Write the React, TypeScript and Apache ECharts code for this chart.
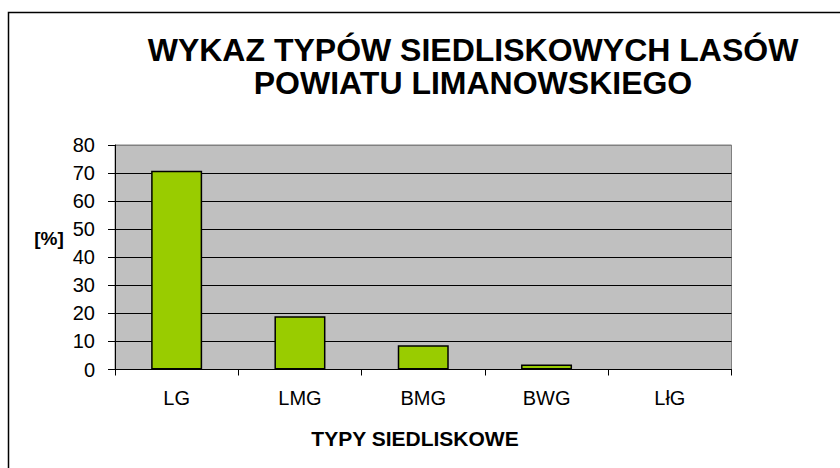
import React, { useEffect, useRef } from "react";
import * as echarts from "echarts";

const categories = ["LG", "LMG", "BMG", "BWG", "LłG"];
const values = [70.8, 19.0, 8.6, 1.8, 0];
const titleLines = ["WYKAZ TYPÓW SIEDLISKOWYCH LASÓW", "POWIATU LIMANOWSKIEGO"];
const yAxisTitle = "[%]";
const xAxisTitle = "TYPY SIEDLISKOWE";

const FONT = "'Liberation Sans', Arial, sans-serif";

export default function App() {
  const ref = useRef<HTMLDivElement>(null);
  useEffect(() => {
    if (!ref.current) return;
    const chart = echarts.init(ref.current, undefined, { renderer: "svg" });
    chart.setOption({
      animation: false,
      backgroundColor: "#ffffff",
      title: {
        text: titleLines.join("\n"),
        left: 468,
        top: 28,
        textAlign: "center",
        textStyle: {
          fontFamily: FONT,
          fontSize: 32,
          fontWeight: "bold",
          color: "#000",
          lineHeight: 33,
        },
      },
      grid: {
        left: 115,
        right: 108.5,
        top: 145,
        bottom: 98.5,
        show: true,
        backgroundColor: "#c0c0c0",
        borderColor: "#808080",
        borderWidth: 1,
      },
      xAxis: {
        type: "category",
        data: categories,
        axisLine: { show: true, lineStyle: { color: "#000", width: 1 } },
        axisTick: { show: true, length: 6, lineStyle: { color: "#000" } },
        axisLabel: { fontFamily: FONT, fontSize: 20, color: "#000", margin: 18 },
      },
      yAxis: {
        type: "value",
        min: 0,
        max: 80,
        interval: 10,
        axisLine: { show: true, lineStyle: { color: "#000", width: 1 } },
        axisTick: { show: true, length: 7, lineStyle: { color: "#000" } },
        axisLabel: { fontFamily: FONT, fontSize: 20, color: "#000", margin: 20 },
        splitLine: {
          show: true,
          lineStyle: {
            color: ["#000", "#000", "#000", "#000", "#000", "#000", "#000", "#000", "#808080"],
            width: 1,
          },
        },
      },
      graphic: [
        {
          type: "rect",
          shape: { x: 8.5, y: 12.5, width: 900, height: 500 },
          style: { fill: "none", stroke: "#000", lineWidth: 1.5 },
          silent: true,
        },
        {
          type: "text",
          x: 49,
          y: 238,
          style: {
            text: yAxisTitle,
            font: `bold 19px ${FONT}`,
            fill: "#000",
            textAlign: "center",
            textVerticalAlign: "middle",
          },
        },
        {
          type: "text",
          x: 415,
          y: 438,
          style: {
            text: xAxisTitle,
            font: `bold 21px ${FONT}`,
            fill: "#000",
            textAlign: "center",
            textVerticalAlign: "middle",
          },
        },
      ],
      series: [
        {
          type: "bar",
          data: values.map((v) => (v === 0 ? { value: v, itemStyle: { borderWidth: 0 } } : v)),
          barWidth: 51,
          itemStyle: { color: "#99cc00", borderColor: "#000", borderWidth: 1.5 },
        },
      ],
    });
    return () => chart.dispose();
  }, []);
  return (
    <div
      ref={ref}
      style={{ position: "fixed", left: 0, top: 0, width: 840, height: 468 }}
    />
  );
}
